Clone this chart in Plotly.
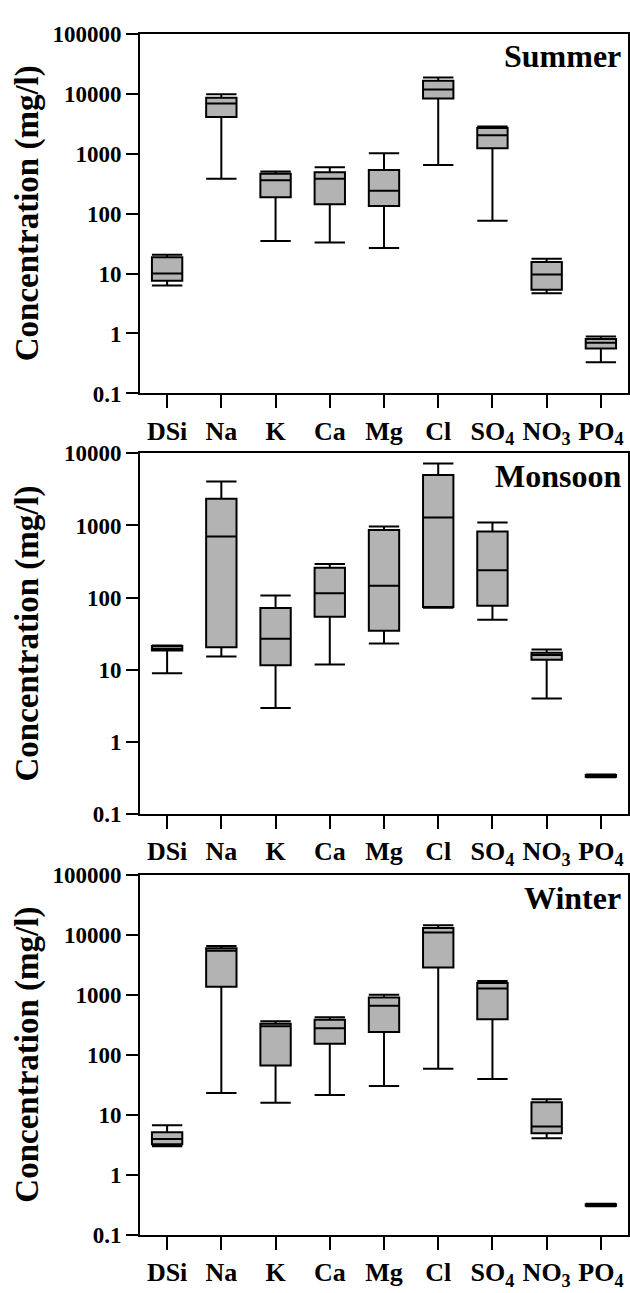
import plotly.graph_objects as go

categories = ["DSi", "Na", "K", "Ca", "Mg", "Cl", "SO<sub>4</sub>", "NO<sub>3</sub>", "PO<sub>4</sub>"]
seasons = ["Summer", "Monsoon", "Winter"]

# Summer
summer_low = [6.3, 380, 34.7, 33, 26.6, 644, 76, 4.7, 0.33]
summer_q1 = [7.6, 4080, 186, 143, 133, 8240, 1222, 5.35, 0.56]
summer_med = [10, 6830, 357, 380, 239, 11700, 2020, 9.6, 0.70]
summer_q3 = [18.7, 8550, 459, 489, 534, 16400, 2660, 15.5, 0.81]
summer_high = [20.5, 9700, 501, 590, 1012, 18600, 2830, 17.6, 0.887]

# Monsoon
monsoon_low = [9.0, 15.3, 2.96, 11.9, 23.2, 72.6, 49.3, 4.0, 0.325]
monsoon_q1 = [18.5, 20.5, 11.6, 54.2, 34.9, 74.1, 77.3, 13.8, 0.33]
monsoon_med = [19.6, 702, 26.9, 115, 146, 1288, 239, 16.0, 0.34]
monsoon_q3 = [21.4, 2340, 71.9, 260, 865, 5010, 822, 17.3, 0.35]
monsoon_high = [21.8, 4060, 107, 292, 970, 7230, 1100, 19.2, 0.355]

# Winter
winter_low = [3.0, 23.2, 15.9, 21.5, 30.5, 58.6, 39.7, 4.1, 0.30]
winter_q1 = [3.23, 1370, 66.5, 154, 242, 2870, 395, 4.95, 0.305]
winter_med = [3.95, 5440, 300, 278, 661, 11000, 1285, 6.44, 0.315]
winter_q3 = [5.14, 6010, 331, 385, 904, 13100, 1590, 16.3, 0.325]
winter_high = [6.7, 6560, 366, 426, 1011, 14500, 1714, 18.3, 0.33]

tick_vals = [0.1, 1, 10, 100, 1000, 10000, 100000]
tick_text = ["0.1", "1", "10", "100", "1000", "10000", "100000"]

W, H = 630, 1293
FONT = "Liberation Serif"

stats = [
    (summer_low, summer_q1, summer_med, summer_q3, summer_high),
    (monsoon_low, monsoon_q1, monsoon_med, monsoon_q3, monsoon_high),
    (winter_low, winter_q1, winter_med, winter_q3, winter_high),
]
# panel pixel extents (top, bottom) and log ranges
panels_px = [(22, 389), (450, 818), (880, 1247)]
log_ranges = [[-1, 5], [-1, 4], [-1, 5]]

minor_vals = [k * 10 ** e for e in range(-1, 5) for k in range(2, 10)]

fig = go.Figure()
layout = dict(
    width=W, height=H, autosize=False,
    margin=dict(l=140, r=1, t=0, b=0),
    paper_bgcolor="white", plot_bgcolor="white",
    showlegend=False,
    font=dict(family=FONT, color="black", weight="bold"),
)
annotations = []
for i, (lo, q1, med, q3, hi) in enumerate(stats):
    n = "" if i == 0 else str(i + 1)
    m = str(i + 4)
    fig.add_trace(go.Box(
        x=categories, lowerfence=lo, q1=q1, median=med, q3=q3, upperfence=hi,
        xaxis="x" + n, yaxis="y" + n,
        fillcolor="#b3b3b3", line=dict(color="black", width=2),
        width=0.56, whiskerwidth=1, boxpoints=False, hoverinfo="skip",
    ))
    top, bot = panels_px[i]
    dom = [1 - bot / H, 1 - top / H]
    layout["xaxis" + n] = dict(
        domain=[0, 1], anchor="y" + n, type="category",
        categoryorder="array", categoryarray=categories, range=[-0.5, 8.5],
        showline=True, linecolor="black", linewidth=2, mirror=True,
        ticks="outside", ticklen=13, tickwidth=2, tickcolor="black",
        showgrid=False, zeroline=False,
        tickfont=dict(family=FONT, size=26, color="black", weight="bold"),
    )
    layout["yaxis" + n] = dict(
        domain=dom, anchor="x" + n, type="log", range=log_ranges[i],
        tickmode="array", tickvals=tick_vals, ticktext=tick_text,
        showline=True, linecolor="black", linewidth=2, mirror=True,
        ticks="outside", ticklen=12, tickwidth=2, tickcolor="black",
        showgrid=False, zeroline=False,
        tickfont=dict(family=FONT, size=23, color="black", weight="bold"),
    )
    # overlay axis carrying the minor ticks
    layout["yaxis" + m] = dict(
        overlaying="y" + n, anchor="x" + n, side="left",
        type="log", range=log_ranges[i],
        tickmode="array", tickvals=minor_vals, showticklabels=False,
        ticks="outside", ticklen=7, tickwidth=1.5, tickcolor="black",
        showline=False, showgrid=False, zeroline=False,
    )
    mid = (top + bot) / 2
    annotations.append(dict(
        text="Concentration (mg/l)", textangle=-90,
        xref="paper", yref="paper", x=(27.5 - 140) / 489, y=1 - mid / H,
        xanchor="center", yanchor="middle", showarrow=False,
        font=dict(family=FONT, size=33, color="black", weight="bold"),
    ))
    annotations.append(dict(
        text=seasons[i], xref="paper", yref="paper",
        x=(624 - 140) / 489, y=1 - (top + 23) / H,
        xanchor="right", yanchor="middle", showarrow=False,
        font=dict(family=FONT, size=32, color="black", weight="bold"),
    ))
layout["annotations"] = annotations
fig.update_layout(**layout)
fig.write_html("out.html")
